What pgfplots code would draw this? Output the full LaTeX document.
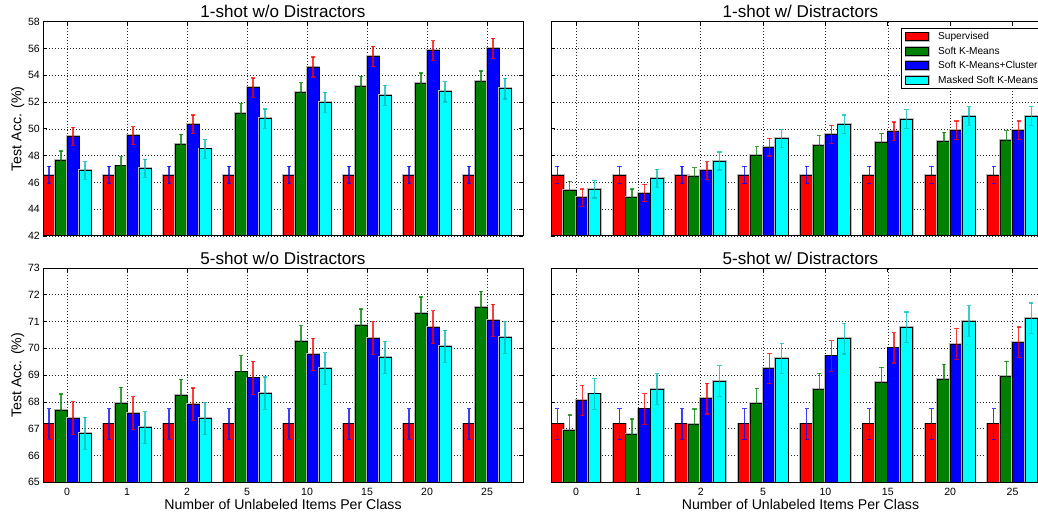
\documentclass[border=0pt]{standalone}
\usepackage{pgfplots}
\pgfplotsset{compat=1.18}
\usepackage{pgfplotstable}
\usepackage{fontspec}
\setmainfont{Liberation Sans}
\newlength\px
\setlength\px{0.75pt}
\definecolor{mgreen}{RGB}{0,128,0}
\definecolor{mcyan}{RGB}{0,255,255}
\definecolor{ecyan}{RGB}{0,185,185}

% 1-shot w/o distractors
\pgfplotstableread{
x sup supe km kme kmc kmce msk mske
0 46.55 0.66 47.65 0.70 49.44 0.68 46.90 0.66
1 46.55 0.66 47.23 0.70 49.49 0.68 47.05 0.68
2 46.55 0.66 48.87 0.72 50.34 0.70 48.50 0.70
3 46.55 0.66 51.13 0.74 53.07 0.72 50.76 0.72
4 46.55 0.66 52.70 0.75 54.62 0.75 51.98 0.74
5 46.55 0.66 53.17 0.75 55.41 0.75 52.50 0.75
6 46.55 0.66 53.42 0.75 55.84 0.75 52.77 0.76
7 46.55 0.66 53.57 0.75 56.01 0.75 53.00 0.77
}\tabA
% 1-shot w/ distractors
\pgfplotstableread{
x sup supe km kme kmc kmce msk mske
0 46.55 0.66 45.43 0.65 44.86 0.65 45.48 0.65
1 46.55 0.66 44.86 0.65 45.21 0.65 46.31 0.66
2 46.55 0.66 46.45 0.66 46.90 0.66 47.60 0.67
3 46.55 0.66 48.00 0.68 48.64 0.66 49.27 0.68
4 46.55 0.66 48.79 0.70 49.59 0.68 50.34 0.70
5 46.55 0.66 48.97 0.70 49.81 0.70 50.73 0.70
6 46.55 0.66 49.04 0.70 49.89 0.70 50.96 0.70
7 46.55 0.66 49.17 0.70 49.89 0.70 50.96 0.70
}\tabB
% 5-shot w/o distractors
\pgfplotstableread{
x sup supe km kme kmc kmce msk mske
0 67.18 0.57 67.70 0.60 67.40 0.61 66.83 0.60
1 67.18 0.57 67.94 0.60 67.58 0.61 67.04 0.60
2 67.18 0.57 68.25 0.60 67.92 0.60 67.38 0.60
3 67.18 0.57 69.12 0.60 68.90 0.61 68.33 0.60
4 67.18 0.57 70.25 0.60 69.77 0.61 69.24 0.60
5 67.18 0.57 70.87 0.60 70.38 0.61 69.66 0.60
6 67.18 0.57 71.32 0.60 70.79 0.61 70.08 0.60
7 67.18 0.57 71.53 0.60 71.04 0.61 70.40 0.60
}\tabC
% 5-shot w/ distractors
\pgfplotstableread{
x sup supe km kme kmc kmce msk mske
0 67.18 0.57 66.94 0.57 68.05 0.57 68.30 0.57
1 67.18 0.57 66.79 0.57 67.74 0.57 68.48 0.57
2 67.18 0.57 67.17 0.57 68.12 0.57 68.78 0.57
3 67.18 0.57 67.94 0.57 69.25 0.57 69.62 0.57
4 67.18 0.57 68.48 0.57 69.72 0.57 70.36 0.57
5 67.18 0.57 68.73 0.57 70.02 0.57 70.79 0.57
6 67.18 0.57 68.83 0.57 70.16 0.57 71.02 0.57
7 67.18 0.57 68.95 0.57 70.23 0.57 71.12 0.57
}\tabD

\pgfplotsset{
  panel/.style={
    scale only axis, width=#1, height=214.3\px,
    xmin=-0.4, xmax=7.6,
    xtick={0,1,2,3,4,5,6,7},
    grid=major,
    major grid style={black!85, line width=0.6\px, dash pattern=on 0.8\px off 2.2\px},
    tick align=inside, major tick length=4\px,
    tick style={black, line width=0.8\px},
    axis line style={black, line width=1\px},
    /pgf/number format/assume math mode=true,
    ticklabel style={font=\fontsize{7.9}{9}\selectfont},
    yticklabel style={anchor=east, inner sep=0pt, xshift=-3\px},
    xticklabel style={anchor=base, inner sep=0pt, yshift=-12.7\px},
    every axis title shift=0pt,
    title style={at={(0.5,1)}, anchor=base, yshift=3.7\px, inner sep=0pt, font=\fontsize{12.8}{14}\selectfont},
    label style={font=\fontsize{10.6}{12}\selectfont},
    ylabel style={at={(axis description cs:-0.0448,0.5)}, anchor=base, inner sep=0pt},
    xlabel style={at={(axis description cs:0.5,0)}, anchor=base, yshift=-27.2\px, inner sep=0pt},
  },
  toprow/.style={ymin=42, ymax=58, ytick={42,44,...,58}, xticklabels={}},
  botrow/.style={ymin=65, ymax=73, ytick={65,66,...,73}, xticklabels={0,1,2,5,10,15,20,25},
    xlabel={Number of Unlabeled Items Per Class}},
  barbase/.style n args={2}{ybar, bar width=0.2, bar shift=0pt, draw=black, line width=0.9\px, fill=#1,
    preaction={draw=black!28, line width=2.6\px},
    legend image code/.code={\draw[fill=#1, draw=black, line width=0.9\px] (0\px,-4\px) rectangle (23\px,4\px);},
    error bars/.cd, y dir=both, y explicit,
    error bar style={draw=#2, opacity=0.75, line width=1.2\px},
    error mark options={rotate=90, draw=#2, opacity=0.75, line width=1.2\px, mark size=2.2\px}},
}
\newcommand\allbars[1]{%
  \addplot[barbase={red}{blue}] table[x expr=\thisrow{x}-0.3, y=sup, y error=supe] {#1};
  \addplot[barbase={mgreen}{mgreen}] table[x expr=\thisrow{x}+-0.1, y=km, y error=kme] {#1};
  \addplot[barbase={blue}{red}] table[x expr=\thisrow{x}+0.1, y=kmc, y error=kmce] {#1};
  \addplot[barbase={mcyan}{ecyan}] table[x expr=\thisrow{x}+0.3, y=msk, y error=mske] {#1};
  \draw[black, line width=1\px] (rel axis cs:0,0) rectangle (rel axis cs:1,1);
}

\begin{document}
\begin{tikzpicture}
\useasboundingbox (0,0) rectangle (1038\px,514\px);
\begin{axis}[panel=480\px, toprow, at={(43\px,278\px)}, anchor=south west,
  title={1-shot w/o Distractors}, ylabel={Test Acc. (\%)}]
\allbars{\tabA}
\end{axis}
\begin{axis}[panel=499\px, toprow, yticklabels={}, at={(551\px,278\px)}, anchor=south west,
  title={1-shot w/ Distractors},
  legend style={at={(0.7014,0.9706)}, anchor=north west, draw=black, line width=1.2\px, fill=white,
    font=\fontsize{7.6}{9}\selectfont, inner xsep=3\px, inner ysep=3\px, row sep=3.8\px,
    nodes={inner sep=0pt, text height=7.5\px, text depth=1.5\px},
    /tikz/every odd column/.append style={column sep=8\px}},
  legend cell align=left]
\allbars{\tabB}
\legend{Supervised, Soft K-Means, Soft K-Means+Cluster, Masked Soft K-Means}
\end{axis}
\begin{axis}[panel=480\px, botrow, at={(43\px,31.7\px)}, anchor=south west,
  title={5-shot w/o Distractors}, ylabel={Test Acc. (\%)}]
\allbars{\tabC}
\end{axis}
\begin{axis}[panel=499\px, botrow, yticklabels={}, at={(551\px,31.7\px)}, anchor=south west,
  title={5-shot w/ Distractors}]
\allbars{\tabD}
\end{axis}
\end{tikzpicture}
\end{document}
